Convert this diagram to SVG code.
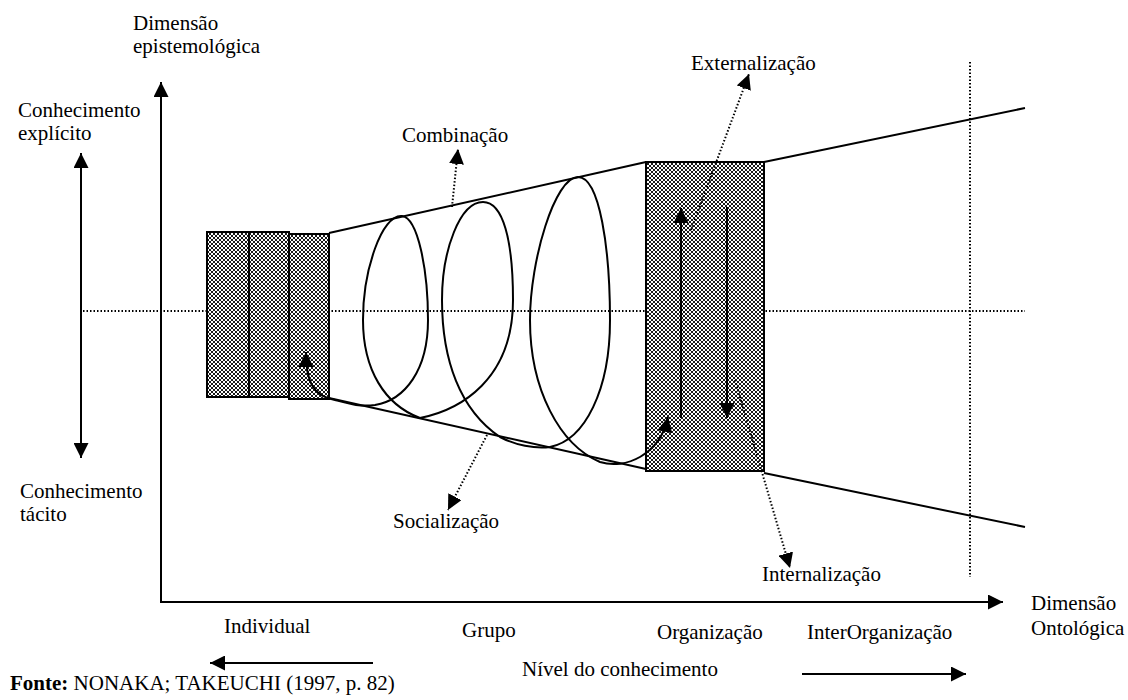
<svg xmlns="http://www.w3.org/2000/svg" width="1128" height="700" viewBox="0 0 1128 700">
<style>
.lbl text{font-size:21px;fill:#000}
.solid{fill:none;stroke:#000;stroke-width:2}
.dot{fill:none;stroke:#000;stroke-width:2;stroke-dasharray:1.5 2}
.box{fill:url(#hatch);stroke:#000;stroke-width:2}
</style>
<defs>
<pattern id="hatch" width="4" height="4" patternUnits="userSpaceOnUse">
<rect width="4" height="4" fill="#fff"/>
<path d="M0,0 L4,4 M4,0 L0,4" stroke="#000" stroke-width="0.9"/>
</pattern>
<marker id="ah" markerUnits="userSpaceOnUse" markerWidth="15" markerHeight="15" viewBox="0 0 15 15" refX="15" refY="7.5" orient="auto-start-reverse">
<path d="M0,0 L15,7.5 L0,15 z" fill="#000"/>
</marker>
</defs>
<rect width="1128" height="700" fill="#fff"/>

<g id="guides">
<line class="dot" x1="83" y1="311" x2="1025" y2="311"/>
<line class="dot" x1="970" y1="62" x2="970" y2="577"/>
</g>

<g id="cone">
<line class="solid" x1="329" y1="233" x2="646" y2="162"/>
<line class="solid" x1="764" y1="162" x2="1025" y2="108"/>
<line class="solid" x1="329" y1="398" x2="646" y2="469"/>
<line class="solid" x1="764" y1="473" x2="1025" y2="527"/>
</g>

<g id="individual">
<rect class="box" x="207" y="232" width="42" height="165"/>
<rect class="box" x="249" y="232" width="40" height="165"/>
<rect class="box" x="289" y="234" width="40" height="165"/>
</g>

<g id="organizacao">
<rect class="box" x="646" y="162" width="118" height="309"/>
</g>

<g id="connectors">
<line class="solid" x1="161" y1="602" x2="161" y2="82" marker-end="url(#ah)"/>
<line class="solid" x1="160" y1="602" x2="1003" y2="602" marker-end="url(#ah)"/>
<line class="solid" x1="81" y1="153" x2="81" y2="458" marker-start="url(#ah)" marker-end="url(#ah)"/>
<line class="solid" x1="373" y1="663" x2="210" y2="663" marker-end="url(#ah)"/>
<line class="solid" x1="802" y1="674" x2="966" y2="674" marker-end="url(#ah)"/>
<line class="solid" x1="681" y1="418" x2="681" y2="208" marker-end="url(#ah)"/>
<line class="solid" x1="727" y1="207" x2="727" y2="418" marker-end="url(#ah)"/>
<path id="spiral" class="solid" marker-start="url(#ah)" marker-end="url(#ah)" d="M306,352 C306,380 312,396 335,400 C350,404 360,407 375,405 C405,400 428,370 428,320 C428,270 418,218 402,216 C382,214 363,270 363,320 C363,370 385,405 420,418 C460,410 513,380 513,300 C513,240 503,202 483,202 C460,202 442,250 442,300 C442,360 460,410 500,437 C515,445 535,449 550,447 C585,440 610,390 610,320 C610,250 600,177 578,177 C555,177 530,260 530,320 C530,390 560,445 600,462 C625,470 660,455 668,417"/>
<line class="dot" x1="452" y1="207" x2="458" y2="149" marker-end="url(#ah)"/>
<line class="dot" x1="487" y1="435" x2="448" y2="510" marker-end="url(#ah)"/>
<line class="dot" x1="691" y1="230" x2="749" y2="74" marker-end="url(#ah)"/>
<line class="dot" x1="735" y1="380" x2="790" y2="568" marker-end="url(#ah)"/>
</g>

<g id="labels" class="lbl" font-family="'Liberation Serif', 'DejaVu Serif', serif">
<text x="133" y="30">Dimensão</text>
<text x="133" y="53">epistemológica</text>
<text x="18" y="117">Conhecimento</text>
<text x="18" y="140">explícito</text>
<text x="20" y="498">Conhecimento</text>
<text x="20" y="521">tácito</text>
<text x="402" y="142">Combinação</text>
<text x="691" y="70">Externalização</text>
<text x="393" y="528">Socialização</text>
<text x="762" y="581">Internalização</text>
<text x="1031" y="610">Dimensão</text>
<text x="1031" y="635">Ontológica</text>
<text x="224" y="633">Individual</text>
<text x="462" y="637">Grupo</text>
<text x="657" y="639">Organização</text>
<text x="807" y="639">InterOrganização</text>
<text x="522" y="676">Nível do conhecimento</text>
<text x="10" y="690"><tspan font-weight="bold">Fonte:</tspan> NONAKA; TAKEUCHI (1997, p. 82)</text>
</g>
</svg>
